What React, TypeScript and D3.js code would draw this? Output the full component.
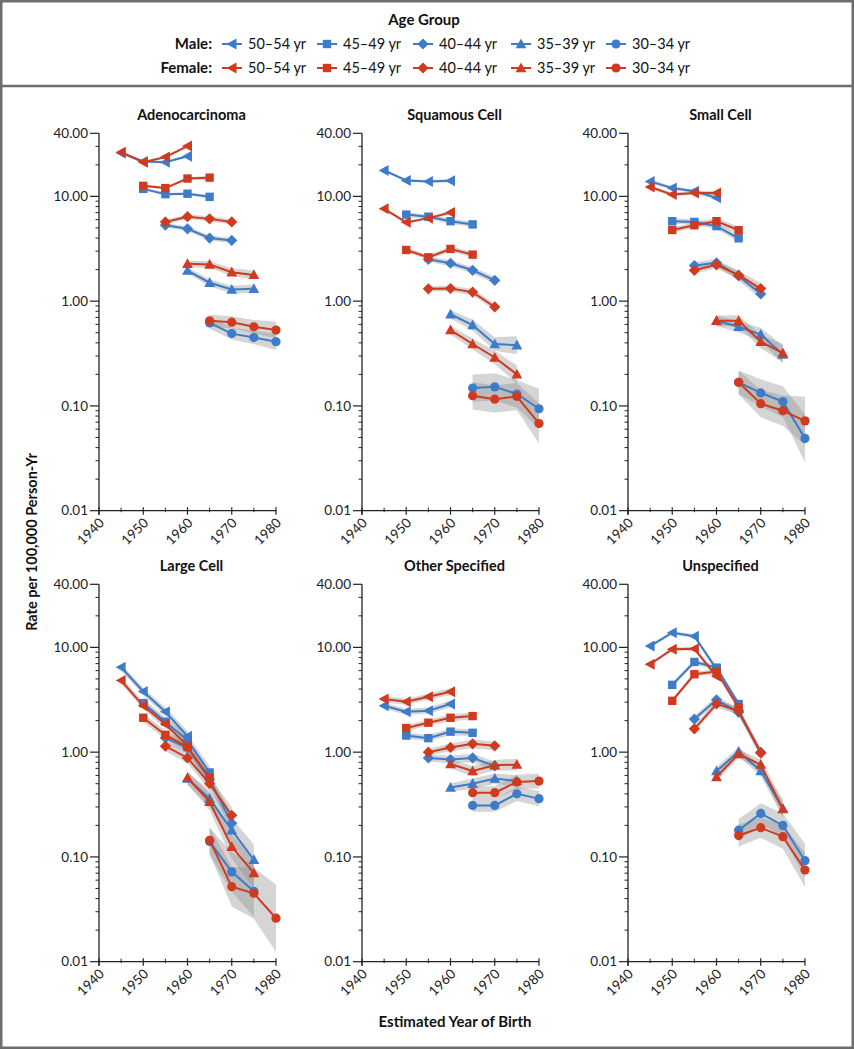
import React from "react";
import * as d3 from "d3";

// ---------- data ----------
const AGE_GROUPS = ["50–54 yr", "45–49 yr", "40–44 yr", "35–39 yr", "30–34 yr"];
const START_YEARS = [1945, 1950, 1955, 1960, 1965];
const SEXES = ["Male:", "Female:"];
const PANEL_TITLES = ["Adenocarcinoma", "Squamous Cell", "Small Cell", "Large Cell", "Other Specified", "Unspecified"];
const Y_TICKS = [40, 10, 1, 0.1, 0.01];
const Y_TICK_LABELS = ["40.00", "10.00", "1.00", "0.10", "0.01"];
const X_TICKS = [1940, 1950, 1960, 1970, 1980];
const X_MINOR = [1945, 1955, 1965, 1975];

type Row = (number | null)[];

const adenoMale: Row[] = [
  [26.0, 21.5, 21.2, 24.2],
  [11.8, 10.5, 10.6, 9.9],
  [5.3, 4.9, 4.0, 3.8],
  [1.96, 1.5, 1.29, 1.31],
  [0.62, 0.49, 0.45, 0.41],
];
const adenoFemale: Row[] = [
  [26.4, 21.2, 23.7, 30.2],
  [12.6, 12.0, 14.8, 15.1],
  [5.7, 6.4, 6.1, 5.7],
  [2.27, 2.24, 1.89, 1.78],
  [0.65, 0.63, 0.57, 0.53],
];
const adenoCI: number[][] = [
  [1.03, 1.03, 1.03, 1.03],
  [1.03, 1.03, 1.03, 1.04],
  [1.05, 1.05, 1.06, 1.06],
  [1.07, 1.08, 1.09, 1.1],
  [1.14, 1.14, 1.16, 1.2],
];

const squamMale: Row[] = [
  [17.7, 14.2, 13.9, 14.1],
  [6.7, 6.4, 5.8, 5.4],
  [2.51, 2.3, 1.97, 1.58],
  [0.75, 0.59, 0.39, 0.38],
  [0.148, 0.152, 0.13, 0.094],
];
const squamFemale: Row[] = [
  [7.6, 5.65, 6.2, 7.0],
  [3.08, 2.62, 3.15, 2.78],
  [1.31, 1.32, 1.22, 0.88],
  [0.53, 0.39, 0.29, 0.2],
  [0.125, 0.116, 0.123, 0.068],
];
const squamCI: number[][] = [
  [1.03, 1.03, 1.03, 1.04],
  [1.05, 1.05, 1.06, 1.06],
  [1.06, 1.07, 1.07, 1.08],
  [1.1, 1.13, 1.16, 1.22],
  [1.35, 1.35, 1.35, 1.55],
];

const smallMale: Row[] = [
  [13.9, 12.0, 11.2, 9.7],
  [5.8, 5.7, 5.2, 3.98],
  [2.19, 2.32, 1.74, 1.17],
  [0.65, 0.57, 0.48, 0.31],
  [0.168, 0.133, 0.11, 0.049],
];
const smallFemale: Row[] = [
  [12.3, 10.4, 10.8, 10.8],
  [4.78, 5.3, 5.8, 4.75],
  [1.97, 2.22, 1.77, 1.32],
  [0.65, 0.65, 0.41, 0.32],
  [0.168, 0.105, 0.09, 0.072],
];
const smallCI: number[][] = [
  [1.04, 1.04, 1.04, 1.05],
  [1.06, 1.06, 1.07, 1.08],
  [1.08, 1.08, 1.1, 1.12],
  [1.12, 1.13, 1.16, 1.22],
  [1.3, 1.35, 1.4, 1.7],
];

const largeMale: Row[] = [
  [6.46, 3.79, 2.43, 1.42],
  [2.94, 1.95, 1.3, 0.64],
  [1.37, 1.1, 0.55, 0.21],
  [0.56, 0.36, 0.18, 0.094],
  [0.14, 0.072, 0.047, null],
];
const largeFemale: Row[] = [
  [4.83, 2.77, 1.86, 1.15],
  [2.13, 1.46, 1.12, 0.57],
  [1.14, 0.88, 0.5, 0.25],
  [0.57, 0.335, 0.125, 0.07],
  [0.144, 0.052, 0.045, 0.026],
];
const largeCI: number[][] = [
  [1.08, 1.08, 1.1, 1.12],
  [1.1, 1.1, 1.12, 1.15],
  [1.12, 1.12, 1.15, 1.2],
  [1.15, 1.2, 1.3, 1.4],
  [1.35, 1.55, 1.75, 2.1],
];

const otherMale: Row[] = [
  [2.77, 2.43, 2.49, 2.88],
  [1.44, 1.36, 1.57, 1.53],
  [0.88, 0.85, 0.88, 0.74],
  [0.46, 0.5, 0.56, 0.53],
  [0.31, 0.31, 0.4, 0.36],
];
const otherFemale: Row[] = [
  [3.21, 3.03, 3.38, 3.77],
  [1.7, 1.91, 2.13, 2.21],
  [1.0, 1.11, 1.2, 1.15],
  [0.77, 0.66, 0.75, 0.76],
  [0.41, 0.41, 0.52, 0.53],
];
const otherCI: number[][] = [
  [1.07, 1.07, 1.07, 1.08],
  [1.07, 1.07, 1.08, 1.08],
  [1.08, 1.09, 1.1, 1.1],
  [1.1, 1.12, 1.12, 1.14],
  [1.15, 1.15, 1.17, 1.18],
];

const unspecMale: Row[] = [
  [10.3, 13.8, 12.8, 6.2],
  [4.39, 7.26, 6.41, 2.88],
  [2.07, 3.16, 2.4, 1.0],
  [0.66, 1.01, 0.66, 0.29],
  [0.18, 0.26, 0.2, 0.092],
];
const unspecFemale: Row[] = [
  [6.9, 9.6, 9.7, 5.3],
  [3.09, 5.54, 5.88, 2.67],
  [1.67, 2.88, 2.49, 0.98],
  [0.58, 0.96, 0.76, 0.286],
  [0.16, 0.19, 0.156, 0.075],
];
const unspecCI: number[][] = [
  [1.04, 1.04, 1.04, 1.06],
  [1.05, 1.05, 1.06, 1.08],
  [1.07, 1.08, 1.09, 1.1],
  [1.1, 1.1, 1.12, 1.2],
  [1.28, 1.25, 1.3, 1.45],
];

const PANEL_MALE = [adenoMale, squamMale, smallMale, largeMale, otherMale, unspecMale];
const PANEL_FEMALE = [adenoFemale, squamFemale, smallFemale, largeFemale, otherFemale, unspecFemale];
const PANEL_CI = [adenoCI, squamCI, smallCI, largeCI, otherCI, unspecCI];

// ---------- style / layout ----------
const W = 854;
const H = 1050;
const BLUE = "#3d7cc9";
const RED = "#d03a1f";
const FONT = "Lato, 'Open Sans', sans-serif";
const COL_X = [99, 362, 628];
const ROW_Y = [133.3, 584.3];
const PW = 177;
const PH = 377.4;
const FRAME = "#6e6e6e";

function markerPath(i: number): string {
  switch (i) {
    case 0:
      return "M-5.5,0L4.5,-5.5L4.5,5.5Z";
    case 1:
      return "M-4.2,-4.2H4.2V4.2H-4.2Z";
    case 2:
      return "M0,-5.6L5.6,0L0,5.6L-5.6,0Z";
    case 3:
      return "M0,-5.6L5.4,4.2H-5.4Z";
    default:
      return d3.symbol(d3.symbolCircle, Math.PI * 4.6 * 4.6)() || "";
  }
}

type Pt = { yr: number; v: number; f: number };

function seriesPoints(row: Row, g: number, ci: number[][]): Pt[] {
  const pts: Pt[] = [];
  row.forEach((v, k) => {
    if (v != null) pts.push({ yr: START_YEARS[g] + 5 * k, v, f: ci[g][k] });
  });
  return pts;
}

function Panel({ idx }: { idx: number }) {
  const col = idx % 3;
  const row = Math.floor(idx / 3);
  const x0 = COL_X[col];
  const y0 = ROW_Y[row];
  const x = d3.scaleLinear().domain([1940, 1980]).range([x0, x0 + PW]);
  const y = d3.scaleLog().domain([0.01, 40]).range([y0 + PH, y0]);
  const ci = PANEL_CI[idx];
  const clipId = `clip${idx}`;

  const line = d3
    .line<Pt>()
    .x((d) => x(d.yr))
    .y((d) => y(d.v));
  const area = d3
    .area<Pt>()
    .x((d) => x(d.yr))
    .y0((d) => y(d.v / d.f))
    .y1((d) => y(d.v * d.f));

  const sexData = [PANEL_MALE[idx], PANEL_FEMALE[idx]];
  const colors = [BLUE, RED];

  const minor: number[] = [];
  [0.01, 0.1, 1, 10].forEach((dec) => {
    for (let m = 2; m <= 9; m++) {
      const v = dec * m;
      if (v < 40) minor.push(v);
    }
  });

  const bottom = y0 + PH;

  return (
    <g>
      <defs>
        <clipPath id={clipId}>
          <rect x={x0} y={y0 - 10} width={PW + 10} height={PH + 10} />
        </clipPath>
      </defs>
      <text
        x={x0 + PW / 2 + 4}
        y={y0 - 13}
        textAnchor="middle"
        fontFamily={FONT}
        fontWeight={700}
        fontSize={14.5}
        fill="#111"
      >
        {PANEL_TITLES[idx]}
      </text>
      {/* bands */}
      <g clipPath={`url(#${clipId})`}>
        {sexData.map((rows, s) =>
          rows.map((r, g) => (
            <path
              key={`b${s}${g}`}
              d={area(seriesPoints(r, g, ci)) || ""}
              fill="#8a8a8a"
              fillOpacity={0.36}
              stroke="none"
            />
          ))
        )}
      </g>
      {/* lines + markers */}
      {sexData.map((rows, s) =>
        rows.map((r, g) => {
          const pts = seriesPoints(r, g, ci);
          return (
            <g key={`l${s}${g}`}>
              <path d={line(pts) || ""} fill="none" stroke={colors[s]} strokeWidth={2} />
              {pts.map((p, k) => (
                <path
                  key={k}
                  d={markerPath(g)}
                  transform={`translate(${x(p.yr)},${y(p.v)})`}
                  fill={colors[s]}
                />
              ))}
            </g>
          );
        })
      )}
      {/* y axis */}
      <line x1={x0} x2={x0} y1={y0} y2={bottom + 4} stroke="#222" strokeWidth={1.3} />
      {Y_TICKS.map((t, i) => (
        <g key={`yt${i}`}>
          <line x1={x0 - 9} x2={x0} y1={y(t)} y2={y(t)} stroke="#222" strokeWidth={1.2} />
          <text
            x={x0 - 11}
            y={y(t)}
            dy="0.35em"
            textAnchor="end"
            fontFamily={FONT}
            fontSize={13.5}
            fill="#222"
          >
            {Y_TICK_LABELS[i]}
          </text>
        </g>
      ))}
      {minor.map((t, i) => (
        <line key={`ym${i}`} x1={x0 - 3.5} x2={x0} y1={y(t)} y2={y(t)} stroke="#222" strokeWidth={1} />
      ))}
      {/* x axis */}
      <line x1={x0} x2={x0 + PW} y1={bottom} y2={bottom} stroke="#222" strokeWidth={1.3} />
      {X_TICKS.map((t) => (
        <g key={`xt${t}`}>
          <line x1={x(t)} x2={x(t)} y1={bottom - 3.5} y2={bottom + 4} stroke="#222" strokeWidth={1.2} />
          <text
            transform={`translate(${x(t) + 6},${bottom + 13}) rotate(-45)`}
            textAnchor="end"
            fontFamily={FONT}
            fontSize={13.5}
            fill="#222"
          >
            {t}
          </text>
        </g>
      ))}
      {X_MINOR.map((t) => (
        <line key={`xm${t}`} x1={x(t)} x2={x(t)} y1={bottom - 3} y2={bottom + 1.5} stroke="#222" strokeWidth={1} />
      ))}
    </g>
  );
}

function Legend() {
  const itemX = [232, 327, 423, 521, 616];
  const rowY = [44, 68];
  const colors = [BLUE, RED];
  return (
    <g>
      <text x={424} y={25} textAnchor="middle" fontFamily={FONT} fontWeight={700} fontSize={15} fill="#111">
        Age Group
      </text>
      {SEXES.map((s, si) => (
        <g key={s}>
          <text
            x={212}
            y={rowY[si]}
            dy="0.35em"
            textAnchor="end"
            fontFamily={FONT}
            fontWeight={700}
            fontSize={15}
            fill="#111"
          >
            {s}
          </text>
          {AGE_GROUPS.map((a, g) => (
            <g key={a}>
              <line
                x1={itemX[g] - 10}
                x2={itemX[g] + 10}
                y1={rowY[si]}
                y2={rowY[si]}
                stroke={colors[si]}
                strokeWidth={2}
              />
              <path d={markerPath(g)} transform={`translate(${itemX[g]},${rowY[si]})`} fill={colors[si]} />
              <text
                x={itemX[g] + 16}
                y={rowY[si]}
                dy="0.35em"
                fontFamily={FONT}
                fontSize={14.5}
                fill="#111"
              >
                {a}
              </text>
            </g>
          ))}
        </g>
      ))}
    </g>
  );
}

export default function App() {
  return (
    <div style={{ position: "absolute", left: 0, top: 0 }}>
      <svg width={W} height={H} viewBox={`0 0 ${W} ${H}`} style={{ display: "block", background: "#fff" }}>
        <rect x={1.25} y={1.25} width={W - 2.5} height={H - 3.5} fill="#fff" stroke={FRAME} strokeWidth={2.5} />
        <line x1={0} x2={W} y1={86} y2={86} stroke={FRAME} strokeWidth={2.5} />
        <Legend />
        {PANEL_TITLES.map((_, i) => (
          <Panel key={i} idx={i} />
        ))}
        <text
          transform={`translate(37,542) rotate(-90)`}
          textAnchor="middle"
          fontFamily={FONT}
          fontWeight={700}
          fontSize={14.5}
          fill="#111"
        >
          Rate per 100,000 Person-Yr
        </text>
        <text x={455} y={1027} textAnchor="middle" fontFamily={FONT} fontWeight={700} fontSize={15} fill="#111">
          Estimated Year of Birth
        </text>
      </svg>
    </div>
  );
}
